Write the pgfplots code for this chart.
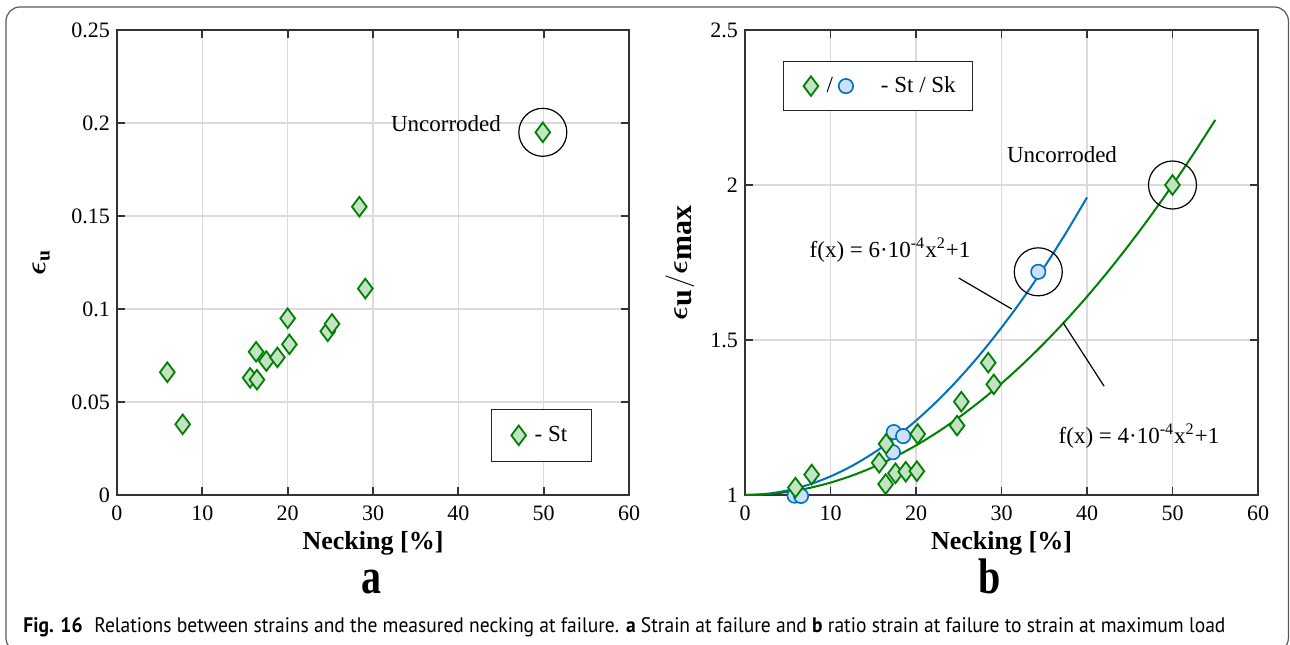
\documentclass[border=0pt]{standalone}
\usepackage{amsmath}
\usepackage{bm}
\usepackage{pgfplots}
\pgfplotsset{compat=1.18}
\usepackage{graphicx}
\usepackage{fontspec}
\setmainfont{Liberation Serif}
\newfontfamily\capfont{PT Sans}
\definecolor{mgreen}{rgb}{0,0.5,0}
\definecolor{mgreenfill}{RGB}{196,226,196}
\definecolor{mblue}{rgb}{0,0.447,0.741}
\definecolor{mbluefill}{RGB}{204,224,246}
\pgfplotsset{
  common/.style={
    anchor=south west, scale only axis, width=256pt, height=232.5pt,
    clip=false,
    xmin=0, xmax=60, xtick={0,10,...,60}, xticklabels={0,10,20,30,40,50,60},
    grid=major, grid style={black!14, line width=0.6pt},
    axis line style={black!80, line width=0.9pt},
    tick style={black!80, line width=0.9pt},
    major tick length=4pt, tick align=inside,
    ticklabel style={font=\fontsize{11}{11}\selectfont},
    xticklabel style={yshift=-2pt},
    xlabel style={at={(axis description cs:0.5,-0.118)}, anchor=base, font=\fontsize{13}{13}\selectfont\bfseries},
  },
  dia/.style={only marks, mark=diamond*, mark size=4.9pt, mark options={draw=mgreen, fill=mgreenfill, line width=0.9pt}},
  circ/.style={only marks, mark=*, mark size=3.6pt, mark options={draw=mblue, fill=mbluefill, line width=0.8pt}},
  big/.style={only marks, mark=o, mark size=12pt, mark options={draw=black, line width=0.6pt}},
}
\begin{document}
\begin{tikzpicture}
\useasboundingbox (0,0) rectangle (645pt,-322pt);
\draw[black!65, line width=0.6pt, rounded corners=7pt] (3pt,-3.5pt) rectangle (644.2pt,-326pt);

% ---------- (a)
\begin{axis}[common, at={(58.5pt,-247.5pt)},
  ymin=0, ymax=0.25, ytick={0,0.05,0.1,0.15,0.2,0.25},
  yticklabels={0,0.05,0.1,0.15,0.2,0.25},
  xlabel={Necking [\%]},
  ylabel={$\bm{\epsilon}_{\mathbf{u}}$},
  ylabel style={at={(axis description cs:-0.148,0.5)}, anchor=center, font=\fontsize{14}{14}\selectfont},
  legend style={at={(axis cs:43.8,0.0177)}, anchor=south west, draw=black!85, line width=0.6pt,
     inner xsep=10pt, inner ysep=6.5pt, font=\fontsize{11.5}{12}\selectfont, cells={anchor=west}},
]
\addlegendimage{legend image code/.code={
  \draw[mark=diamond*, mark size=4.9pt, mark options={draw=mgreen, fill=mgreenfill, line width=0.9pt}] plot coordinates {(0pt,0pt)};
  \path[draw=none] (0pt,0pt) -- (6pt,0pt);}}
\addlegendentry{- St}
\addplot[dia, forget plot] coordinates {
(5.9,0.066) (7.7,0.038) (15.6,0.063) (16.3,0.077) (16.4,0.062) (17.5,0.072) (18.8,0.074)
(20.0,0.095) (20.2,0.081) (24.7,0.088) (25.2,0.092) (28.4,0.155) (29.1,0.111) (49.9,0.195)};
\addplot[big, forget plot] coordinates {(49.9,0.195)};
\node[font=\fontsize{11.5}{12}\selectfont] at (axis cs:38.55,0.1995) {Uncorroded};
\end{axis}
\node[font=\fontsize{25}{25}\selectfont\bfseries, anchor=base] at (185.5pt,-296.5pt) {\scalebox{0.8}[1]{a}};

% ---------- (b)
\begin{axis}[common, at={(372.5pt,-247.5pt)}, width=256.5pt,
  ymin=1, ymax=2.5, ytick={1,1.5,2,2.5}, yticklabels={1,1.5,2,2.5},
  xlabel={Necking [\%]},
  ylabel={$\bm{\epsilon}_{\textstyle\mathbf{u}}/\bm{\epsilon}_{\textstyle\mathbf{max}}$},
  ylabel style={at={(axis description cs:-0.127,0.5)}, anchor=center, font=\fontsize{15}{15}\selectfont},
  legend style={at={(axis cs:4.44,2.400)}, anchor=north west, draw=black!85, line width=0.6pt,
     inner xsep=10pt, inner ysep=5.5pt, font=\fontsize{11.5}{12}\selectfont, cells={anchor=west}},
]
\addlegendimage{legend image code/.code={
  \draw[mark=diamond*, mark size=4.9pt, mark options={draw=mgreen, fill=mgreenfill, line width=0.9pt}] plot coordinates {(0pt,0pt)};
  \node[font=\fontsize{11.5}{12}\selectfont, inner sep=0pt] at (7.5pt,0pt) {/};
  \draw[mark=*, mark size=3.6pt, mark options={draw=mblue, fill=mbluefill, line width=0.8pt}] plot coordinates {(17.5pt,0pt)};
  \path[draw=none] (0pt,0pt) -- (33pt,0pt);}}
\addlegendentry{- St / Sk\kern-3.5pt}
% fitted curves (tabulated)
\addplot[mblue, line width=1pt, smooth, forget plot] coordinates {
(0,1) (2.5,1.00375) (5,1.015) (7.5,1.03375) (10,1.06) (12.5,1.09375) (15,1.135) (17.5,1.18375)
(20,1.24) (22.5,1.30375) (25,1.375) (27.5,1.45375) (30,1.54) (32.5,1.63375) (35,1.735) (37.5,1.84375) (40,1.96)};
\addplot[mgreen, line width=1pt, smooth, forget plot] coordinates {
(0,1) (2.5,1.0025) (5,1.01) (7.5,1.0225) (10,1.04) (12.5,1.0625) (15,1.09) (17.5,1.1225) (20,1.16)
(22.5,1.2025) (25,1.25) (27.5,1.3025) (30,1.36) (32.5,1.4225) (35,1.49) (37.5,1.5625) (40,1.64)
(42.5,1.7225) (45,1.81) (47.5,1.9025) (50,2.0) (52.5,2.1025) (55,2.21)};
\addplot[circ, forget plot] coordinates {
(5.8,0.998) (6.55,0.997) (17.3,1.138) (17.4,1.203) (18.5,1.19) (34.3,1.72)};
\addplot[dia, forget plot] coordinates {
(5.9,1.024) (7.8,1.066) (15.7,1.104) (16.45,1.035) (16.5,1.165) (17.6,1.07) (18.8,1.075)
(20.1,1.077) (20.2,1.197) (24.8,1.224) (25.3,1.301) (28.45,1.427) (29.1,1.357) (50.0,2.0)};
\addplot[big, forget plot] coordinates {(50.0,2.0) (34.3,1.72)};
\addplot[black, line width=0.6pt, forget plot] coordinates {(25.0,1.70) (31.2,1.60)};
\addplot[black, line width=0.6pt, forget plot] coordinates {(37.2,1.556) (42.0,1.351)};
\node[font=\fontsize{11.5}{12}\selectfont] at (axis cs:37.08,2.097) {Uncorroded};
\node[font=\fontsize{11.5}{12}\selectfont] at (axis cs:16.96,1.79) {f(x) = 6·10\textsuperscript{-4}x\textsuperscript{2}+1};
\node[font=\fontsize{11.5}{12}\selectfont] at (axis cs:46.08,1.19) {f(x) = 4·10\textsuperscript{-4}x\textsuperscript{2}+1};
\end{axis}
\node[font=\fontsize{25}{25}\selectfont\bfseries, anchor=base] at (495pt,-296.5pt) {\scalebox{0.8}[1]{b}};

% ---------- caption
\node[anchor=base west, inner sep=0pt] at (11.5pt,-316pt) {\resizebox{601pt}{\height}{\capfont\fontsize{10.5}{11}\selectfont\textbf{Fig. 16}\hspace{0.6em}Relations between strains and the measured necking at failure. \textbf{a} Strain at failure and \textbf{b} ratio strain at failure to strain at maximum load}};
\end{tikzpicture}
\end{document}
